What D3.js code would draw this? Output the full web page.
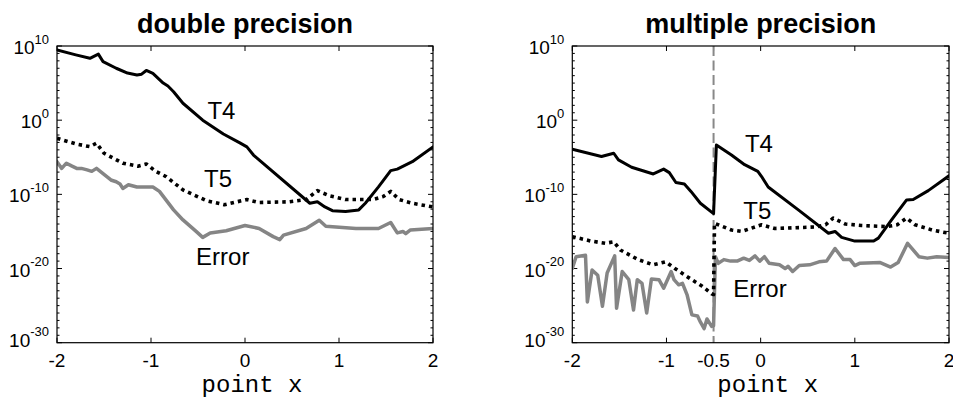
<!DOCTYPE html>
<html><head><meta charset="utf-8">
<script src="https://cdn.jsdelivr.net/npm/d3@7"></script>
<style>body{margin:0;background:#fff} svg{display:block}</style>
</head><body>
<svg id="c" width="953" height="401"></svg>
<script>
// ---------- data ----------
const xTicksDouble = [-2, -1, 0, 1, 2];
const xTicksMulti = [-2, -1, -0.5, 0, 1, 2];
const yTickExps = [10, 0, -10, -20, -30];
const minorExps = d3.range(-30, 11);
const titles = ["double precision", "multiple precision"];
const xLabel = "point x";
const seriesNames = ["T4", "T5", "Error"];
const splitX = -0.5;

// each point: [x, log10(value)]
const doubleT4 = [[-2,9.46],[-1.8,8.8],[-1.65,8.34],[-1.56,8.9],[-1.51,7.9],[-1.37,7.0],[-1.25,6.35],[-1.15,6.1],[-1.1,6.2],[-1.05,6.7],[-0.98,6.3],[-0.87,5.0],[-0.82,4.6],[-0.76,3.84],[-0.66,2.28],[-0.45,0],[-0.23,-1.86],[-0.05,-3.1],[0.02,-3.6],[0.09,-4.7],[0.69,-11.2],[0.77,-11.0],[0.85,-11.7],[0.93,-12.2],[1.07,-12.3],[1.21,-12.1],[1.28,-11.2],[1.42,-9.0],[1.55,-6.8],[1.62,-6.6],[1.78,-5.6],[2.0,-3.6]];
const doubleT5 = [[-2,-2.44],[-1.8,-3.2],[-1.65,-3.57],[-1.58,-3.1],[-1.5,-4.46],[-1.3,-5.8],[-1.14,-6.2],[-1.05,-5.9],[-0.95,-6.9],[-0.84,-7.6],[-0.66,-9.4],[-0.41,-10.85],[-0.22,-11.4],[0.02,-10.7],[0.15,-11.1],[0.47,-11.0],[0.65,-10.7],[0.77,-9.5],[0.9,-10.2],[1.07,-10.7],[1.36,-10.7],[1.47,-10.3],[1.55,-9.6],[1.64,-10.7],[1.78,-11.2],[2.0,-11.7]];
const doubleErr = [[-2,-5.6],[-1.95,-6.5],[-1.9,-5.8],[-1.84,-6.2],[-1.79,-6.5],[-1.74,-6.5],[-1.68,-6.7],[-1.63,-6.9],[-1.58,-6.5],[-1.49,-7.4],[-1.42,-8.1],[-1.37,-8.3],[-1.33,-8.6],[-1.3,-9.2],[-1.24,-8.7],[-1.15,-9.0],[-0.98,-9.0],[-0.91,-9.6],[-0.76,-12.1],[-0.66,-13.45],[-0.52,-15.0],[-0.45,-15.8],[-0.37,-15.2],[-0.2,-14.9],[0.0,-14.2],[0.15,-14.6],[0.3,-15.7],[0.37,-16.1],[0.41,-15.5],[0.65,-14.6],[0.79,-13.5],[0.86,-14.3],[1.18,-14.6],[1.42,-14.6],[1.55,-13.8],[1.62,-15.2],[1.68,-15.0],[1.71,-15.3],[1.76,-14.8],[2.0,-14.6]];

const multiT4 = [[-2,-3.93],[-1.69,-4.9],[-1.56,-4.46],[-1.51,-5.36],[-1.37,-6.35],[-1.14,-7.25],[-1.03,-6.6],[-0.97,-7.07],[-0.9,-8.4],[-0.81,-8.6],[-0.74,-9.6],[-0.64,-11.2],[-0.5,-12.6],[-0.47,-3.35],[-0.31,-4.7],[-0.17,-6.0],[-0.03,-6.9],[0.01,-7.6],[0.08,-9.0],[0.4,-12.1],[0.72,-15.25],[0.79,-15.0],[0.86,-15.8],[1.0,-16.3],[1.2,-16.3],[1.25,-15.9],[1.39,-13.45],[1.55,-10.75],[1.62,-10.7],[1.78,-9.5],[2.0,-7.5]];
const multiT5 = [[-2,-15.7],[-1.8,-16.3],[-1.65,-16.6],[-1.56,-16.4],[-1.49,-17.5],[-1.3,-18.8],[-1.14,-19.5],[-1.01,-19.1],[-0.91,-20.0],[-0.78,-21.1],[-0.62,-22.4],[-0.52,-23.4],[-0.5,-23.5],[-0.49,-13.9],[-0.31,-14.8],[-0.2,-15.0],[0.01,-14.1],[0.15,-14.6],[0.58,-14.4],[0.69,-14.1],[0.77,-13.2],[0.9,-14.0],[1.07,-14.2],[1.34,-14.35],[1.45,-14.1],[1.55,-13.2],[1.64,-14.1],[1.82,-14.8],[2.0,-15.25]];
const multiErr = [[-2,-20.0],[-1.96,-18.4],[-1.91,-18.3],[-1.86,-18.2],[-1.84,-24.5],[-1.79,-20.2],[-1.73,-20.9],[-1.68,-25.1],[-1.63,-20.6],[-1.55,-18.3],[-1.53,-25.35],[-1.47,-20.4],[-1.4,-21.5],[-1.35,-25.6],[-1.31,-21.5],[-1.26,-22.0],[-1.21,-26.0],[-1.16,-21.4],[-1.08,-21.5],[-1.03,-22.65],[-0.95,-20.4],[-0.92,-21.5],[-0.87,-22.2],[-0.83,-22.0],[-0.78,-23.6],[-0.73,-26.25],[-0.67,-26.4],[-0.64,-27.2],[-0.6,-28.1],[-0.57,-26.8],[-0.52,-27.8],[-0.5,-27.7],[-0.48,-18.4],[-0.45,-19.3],[-0.39,-18.8],[-0.32,-19.0],[-0.25,-19.0],[-0.18,-18.6],[-0.12,-18.9],[-0.06,-18.3],[-0.01,-19.0],[0.04,-18.4],[0.09,-19.3],[0.2,-19.5],[0.26,-20.0],[0.29,-19.7],[0.34,-20.4],[0.41,-19.6],[0.52,-19.5],[0.62,-19.1],[0.7,-19.0],[0.79,-17.3],[0.88,-18.8],[0.95,-18.8],[1.0,-19.6],[1.05,-19.3],[1.27,-19.2],[1.38,-19.8],[1.46,-19.2],[1.56,-16.6],[1.68,-18.4],[1.77,-18.6],[1.87,-18.4],[2.0,-18.5]];

// label anchors in data coords [x, log10 y]
const doubleLabelAt = [[-0.40, 0.1], [-0.436, -8.96], [-0.52, -19.5]];
const multiLabelAt = [[-0.167, -4.25], [-0.185, -13.3], [-0.29, -23.87]];

// ---------- drawing ----------
const svg = d3.select("#c");
const styles = [
  {stroke: "#000", width: 3, dash: null},
  {stroke: "#000", width: 3.6, dash: "3.5,4"},
  {stroke: "#858585", width: 3.5, dash: null}
];

function panel(idx, left, right, xTicks, series, labelAt, split) {
  const top = 46, bottom = 342.7;
  const x = d3.scaleLinear().domain([-2, 2]).range([left, right]);
  const y = d3.scaleLog().domain([1e-30, 1e10]).range([bottom, top]);
  const g = svg.append("g");
  const clipId = "clip" + idx;
  svg.append("clipPath").attr("id", clipId).append("rect")
    .attr("x", left).attr("y", top).attr("width", right - left).attr("height", bottom - top);

  // ticks
  const tk = g.append("g").attr("stroke", "#000").attr("stroke-width", 1);
  minorExps.forEach(e => {
    const yy = y(Math.pow(10, e));
    const major = yTickExps.includes(e);
    const L = major ? 5 : 2.5;
    tk.append("line").attr("x1", left).attr("x2", left + L).attr("y1", yy).attr("y2", yy);
    tk.append("line").attr("x1", right).attr("x2", right - L).attr("y1", yy).attr("y2", yy);
  });
  xTicks.forEach(v => {
    const xx = x(v);
    tk.append("line").attr("x1", xx).attr("x2", xx).attr("y1", bottom).attr("y2", bottom - 5);
    tk.append("line").attr("x1", xx).attr("x2", xx).attr("y1", top).attr("y2", top + 5);
  });

  // split line
  if (split !== null) {
    g.append("line").attr("x1", x(split)).attr("x2", x(split))
      .attr("y1", top).attr("y2", bottom)
      .attr("stroke", "#888").attr("stroke-width", 2).attr("stroke-dasharray", "10,4.5");
  }

  // series
  const line = d3.line().x(d => x(d[0])).y(d => y(Math.pow(10, d[1])));
  const sg = g.append("g").attr("clip-path", `url(#${clipId})`);
  [2, 1, 0].forEach(i => {
    const s = styles[i];
    sg.append("path").datum(series[i]).attr("d", line)
      .attr("fill", "none").attr("stroke", s.stroke).attr("stroke-width", s.width)
      .attr("stroke-linejoin", "round")
      .attr("stroke-linecap", s.dash ? "butt" : "round")
      .attr("stroke-dasharray", s.dash);
  });

  // box
  g.append("rect").attr("x", left).attr("y", top).attr("width", right - left).attr("height", bottom - top)
    .attr("fill", "none").attr("stroke", "#000").attr("stroke-width", 1.2);

  // y tick labels
  yTickExps.forEach(e => {
    const yy = y(Math.pow(10, e));
    const t = g.append("text").attr("x", left - 8).attr("y", yy + 8 - (e === -30 ? 4 : 0))
      .attr("text-anchor", "end").attr("font-family", "Liberation Sans, Arial, sans-serif")
      .attr("font-size", 19).attr("fill", "#000");
    t.append("tspan").text("10");
    t.append("tspan").attr("dy", -10.5).attr("font-size", 13).text(String(e));
  });

  // x tick labels
  xTicks.forEach(v => {
    g.append("text").attr("x", x(v)).attr("y", bottom + 24.5)
      .attr("text-anchor", "middle").attr("font-family", "Liberation Sans, Arial, sans-serif")
      .attr("font-size", 19).attr("fill", "#000").text(String(v));
  });

  // x label
  g.append("text").attr("x", (left + right) / 2 + 7).attr("y", 392)
    .attr("text-anchor", "middle").attr("font-family", "Liberation Mono, Courier New, monospace")
    .attr("font-size", 24).attr("fill", "#000").text(xLabel);

  // title
  g.append("text").attr("x", (left + right) / 2).attr("y", 33)
    .attr("text-anchor", "middle").attr("font-family", "Liberation Sans, Arial, sans-serif")
    .attr("font-weight", "bold").attr("font-size", 27).attr("fill", "#000").text(titles[idx]);

  // series annotations
  seriesNames.forEach((n, i) => {
    g.append("text").attr("x", x(labelAt[i][0])).attr("y", y(Math.pow(10, labelAt[i][1])))
      .attr("font-family", "Liberation Sans, Arial, sans-serif")
      .attr("font-size", 24).attr("fill", "#000").text(n);
  });
}

panel(0, 57, 433, xTicksDouble, [doubleT4, doubleT5, doubleErr], doubleLabelAt, null);
panel(1, 572.3, 949, xTicksMulti, [multiT4, multiT5, multiErr], multiLabelAt, splitX);
</script>
</body></html>
